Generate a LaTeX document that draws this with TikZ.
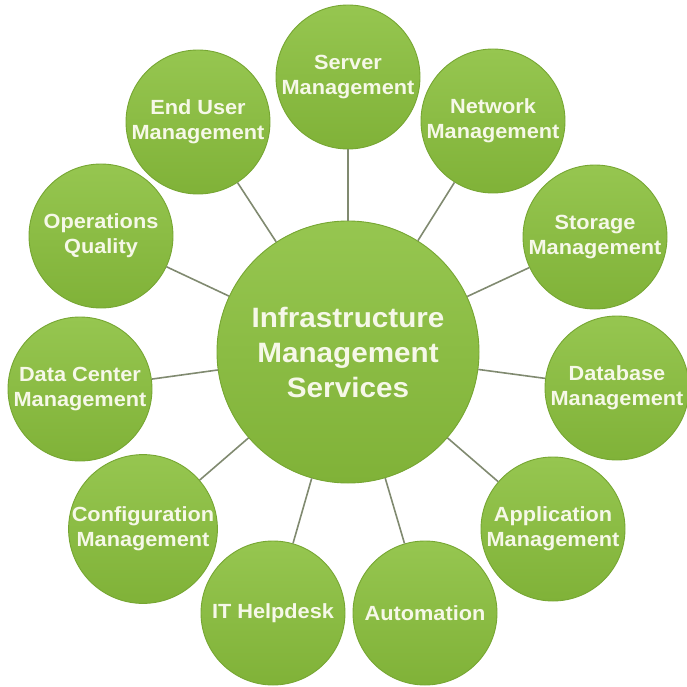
\documentclass[tikz,border=0pt]{standalone}
\usepackage{fontspec}
\setmainfont{Liberation Sans}[FakeStretch=1.06]
\begin{document}
\begin{tikzpicture}[x=1pt,y=-1pt,
  every node/.style={inner sep=0pt},
  bubble/.style={circle, draw=rimgreen, line width=0.9pt, top color=topgreen, bottom color=botgreen,
     text=txtwhite, align=center, font=\bfseries\fontsize{20.5}{25}\selectfont},
  outer/.style={bubble, minimum size=144pt},
  hub/.style={bubble, minimum size=262pt, font=\bfseries\fontsize{28}{35}\selectfont},
  link/.style={draw=linkgray, line width=1.6pt}]
\definecolor{topgreen}{RGB}{150,198,80}
\definecolor{botgreen}{RGB}{128,178,56}
\definecolor{rimgreen}{RGB}{118,166,50}
\definecolor{txtwhite}{RGB}{246,248,232}
\definecolor{linkgray}{RGB}{128,138,112}
\useasboundingbox (0,0) rectangle (686,687);
\node[hub] (c) at (348,352) {Infrastructure\\Management\\Services};
\node[outer] (srv) at (348,77) {Server\\Management};
\node[outer] (net) at (493,121) {Network\\Management};
\node[outer] (sto) at (595,237) {Storage\\Management};
\node[outer] (db) at (617,388) {Database\\Management};
\node[outer] (app) at (553,529) {Application\\Management};
\node[outer] (aut) at (425,613) {Automation};
\node[outer] (itd) at (273,613) {IT Helpdesk};
\node[outer] (cfg) at (143,529) {Configuration\\Management};
\node[outer] (dc) at (80,389) {Data Center\\Management};
\node[outer] (ops) at (101,236) {Operations\\Quality};
\node[outer] (eu) at (198,122) {End User\\Management};
\foreach \n in {srv,net,sto,db,app,aut,itd,cfg,dc,ops,eu}
  \draw[link] (c) -- (\n);
\end{tikzpicture}
\end{document}
